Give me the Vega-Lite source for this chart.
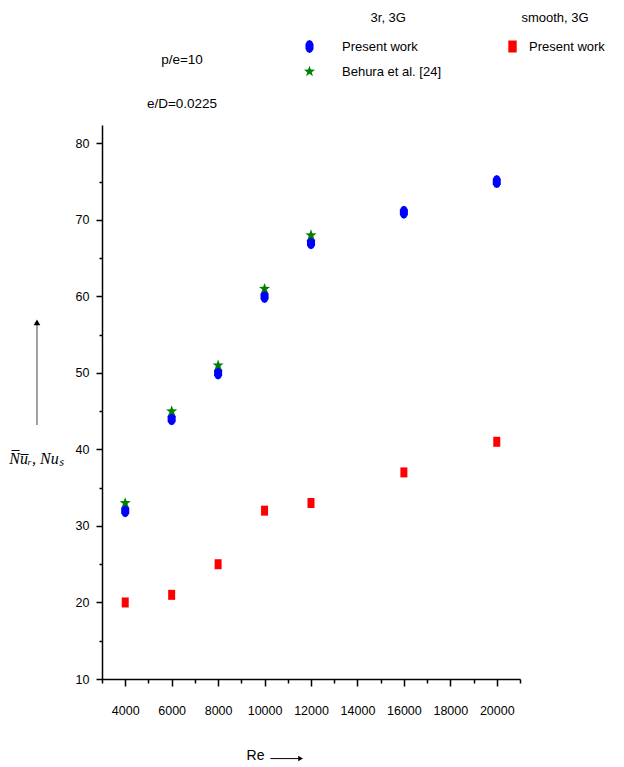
{
  "$schema": "https://vega.github.io/schema/vega-lite/v6.json",
  "width": 418,
  "height": 554,
  "autosize": {"type": "none"},
  "padding": {"left": 102, "top": 125, "right": 104, "bottom": 88},
  "background": "white",
  "title": {
    "text": "p/e=10",
    "subtitle": "e/D=0.0225",
    "anchor": "start",
    "frame": "group",
    "align": "center",
    "dx": 80,
    "offset": -98,
    "subtitlePadding": 30,
    "font": "Liberation Sans",
    "subtitleFont": "Liberation Sans",
    "fontSize": 13.5,
    "subtitleFontSize": 13.5,
    "fontWeight": "normal",
    "color": "black",
    "subtitleColor": "black"
  },
  "datasets": {
    "r3": [
      {"Re": 4000, "Nu": 32, "series": "Present work"},
      {"Re": 6000, "Nu": 44, "series": "Present work"},
      {"Re": 8000, "Nu": 50, "series": "Present work"},
      {"Re": 10000, "Nu": 60, "series": "Present work"},
      {"Re": 12000, "Nu": 67, "series": "Present work"},
      {"Re": 16000, "Nu": 71, "series": "Present work"},
      {"Re": 20000, "Nu": 75, "series": "Present work"},
      {"Re": 4000, "Nu": 33, "series": "Behura et al. [24]"},
      {"Re": 6000, "Nu": 45, "series": "Behura et al. [24]"},
      {"Re": 8000, "Nu": 51, "series": "Behura et al. [24]"},
      {"Re": 10000, "Nu": 61, "series": "Behura et al. [24]"},
      {"Re": 12000, "Nu": 68, "series": "Behura et al. [24]"}
    ],
    "smooth": [
      {"Re": 4000, "Nu": 20, "series": "Present work"},
      {"Re": 6000, "Nu": 21, "series": "Present work"},
      {"Re": 8000, "Nu": 25, "series": "Present work"},
      {"Re": 10000, "Nu": 32, "series": "Present work"},
      {"Re": 12000, "Nu": 33, "series": "Present work"},
      {"Re": 16000, "Nu": 37, "series": "Present work"},
      {"Re": 20000, "Nu": 41, "series": "Present work"}
    ],
    "one": [{"k": 1}]
  },
  "layer": [
    {
      "data": {"name": "r3"},
      "mark": {"type": "point", "filled": true, "opacity": 1, "size": 169, "strokeWidth": 0},
      "encoding": {
        "x": {
          "field": "Re", "type": "quantitative",
          "scale": {"domain": [3000, 21000], "nice": false, "zero": false},
          "axis": {
            "orient": "bottom",
            "values": [4000, 6000, 8000, 10000, 12000, 14000, 16000, 18000, 20000],
            "format": "d",
            "tickSize": 7,
            "labelPadding": 18,
            "labelDx": 5,
            "title": "Re",
            "titleX": 153,
            "titleY": 76,
            "titleAnchor": null,
            "titleAlign": "center",
            "titleBaseline": "middle",
            "titleFontWeight": "normal",
            "titleFontSize": 14
          }
        },
        "y": {
          "field": "Nu", "type": "quantitative",
          "scale": {"domain": [10, 82.4], "nice": false, "zero": false},
          "axis": {
            "orient": "left",
            "values": [10, 20, 30, 40, 50, 60, 70, 80],
            "tickSize": 6,
            "labelPadding": 7,
            "title": "N̅u̅ᵣ, Nuₛ",
            "titleAngle": 0,
            "titleX": -66,
            "titleY": 333,
            "titleAlign": "center",
            "titleBaseline": "middle",
            "titleFont": "Liberation Serif",
            "titleFontStyle": "italic",
            "titleFontWeight": "normal",
            "titleFontSize": 16
          }
        },
        "shape": {
          "field": "series", "type": "nominal",
          "scale": {
            "domain": ["Present work", "Behura et al. [24]"],
            "range": [
              "M0,-1 L0.35,-0.85 L0.62,-0.4 L0.62,0.4 L0.35,0.85 L0,1 L-0.35,0.85 L-0.62,0.4 L-0.62,-0.4 L-0.35,-0.85 Z",
              "M0,-0.9 L0.212,-0.291 L0.856,-0.278 L0.342,0.112 L0.529,0.728 L0,0.36 L-0.529,0.728 L-0.342,0.112 L-0.856,-0.278 L-0.212,-0.291 Z"
            ]
          },
          "legend": {
            "title": "\u200b\u00a0\u00a0\u00a0\u00a0\u00a0\u00a0\u00a0\u00a0\u00a03r, 3G",
            "orient": "none",
            "legendX": 201,
            "legendY": -113,
            "symbolSize": 169,
            "labelOffset": 26,
            "rowPadding": 11,
            "titleAnchor": "middle",
            "titlePadding": 15,
            "padding": 0
          }
        },
        "color": {
          "field": "series", "type": "nominal",
          "scale": {
            "domain": ["Present work", "Behura et al. [24]"],
            "range": ["#0000ff", "#008000"]
          },
          "legend": {
            "title": "\u200b\u00a0\u00a0\u00a0\u00a0\u00a0\u00a0\u00a0\u00a0\u00a03r, 3G",
            "orient": "none",
            "legendX": 201,
            "legendY": -113,
            "symbolSize": 169,
            "labelOffset": 26,
            "rowPadding": 11,
            "titleAnchor": "middle",
            "titlePadding": 15,
            "padding": 0
          }
        }
      }
    },
    {
      "data": {"name": "smooth"},
      "mark": {"type": "point", "filled": true, "opacity": 1, "size": 100, "strokeWidth": 0},
      "encoding": {
        "x": {
          "field": "Re", "type": "quantitative",
          "axis": {
            "orient": "bottom",
            "values": [3000, 5000, 7000, 9000, 11000, 13000, 15000, 17000, 19000, 21000],
            "tickSize": 4,
            "labels": false,
            "domain": false,
            "title": null
          }
        },
        "y": {
          "field": "Nu", "type": "quantitative",
          "axis": {
            "orient": "left",
            "values": [15, 25, 35, 45, 55, 65, 75],
            "tickSize": 3,
            "labels": false,
            "domain": false,
            "title": null
          }
        },
        "shape": {
          "field": "series", "type": "nominal",
          "scale": {"domain": ["Present work"], "range": ["M-0.7,-1 L0.7,-1 L0.7,1 L-0.7,1 Z"]},
          "legend": {
            "title": "smooth, 3G",
            "orient": "none",
            "legendX": 404,
            "legendY": -113,
            "symbolSize": 144,
            "labelOffset": 10,
            "rowPadding": 11,
            "titleAnchor": "middle",
            "titlePadding": 15,
            "padding": 0
          }
        },
        "color": {
          "field": "series", "type": "nominal",
          "scale": {"domain": ["Present work"], "range": ["#ff0000"]},
          "legend": {
            "title": "smooth, 3G",
            "orient": "none",
            "legendX": 404,
            "legendY": -113,
            "symbolSize": 144,
            "labelOffset": 10,
            "rowPadding": 11,
            "titleAnchor": "middle",
            "titlePadding": 15,
            "padding": 0
          }
        }
      }
    },
    {
      "data": {"name": "one"},
      "mark": {"type": "rule", "color": "#808080", "strokeWidth": 1.5},
      "encoding": {
        "x": {"datum": 200, "type": "quantitative", "axis": null},
        "y": {"datum": 43.2, "type": "quantitative", "axis": null},
        "y2": {"datum": 56.3}
      }
    },
    {
      "data": {"name": "one"},
      "mark": {"type": "point", "shape": "triangle-up", "filled": true, "color": "black", "opacity": 1, "size": 45},
      "encoding": {
        "x": {"datum": 200, "type": "quantitative", "axis": null},
        "y": {"datum": 56.6, "type": "quantitative", "axis": null}
      }
    },
    {
      "data": {"name": "one"},
      "mark": {"type": "rule", "color": "black", "strokeWidth": 1},
      "encoding": {
        "x": {"datum": 10250, "type": "quantitative", "axis": null},
        "x2": {"datum": 11450},
        "y": {"datum": -0.4, "type": "quantitative", "axis": null}
      }
    },
    {
      "data": {"name": "one"},
      "mark": {"type": "point", "shape": "triangle-right", "filled": true, "color": "black", "opacity": 1, "size": 30},
      "encoding": {
        "x": {"datum": 11550, "type": "quantitative", "axis": null},
        "y": {"datum": -0.4, "type": "quantitative", "axis": null}
      }
    }
  ],
  "resolve": {
    "axis": {"x": "independent", "y": "independent"},
    "scale": {"color": "independent", "shape": "independent"},
    "legend": {"color": "independent", "shape": "independent"}
  },
  "config": {
    "view": {"stroke": null},
    "font": "Liberation Sans",
    "axis": {
      "grid": false,
      "domainColor": "black",
      "domainWidth": 1.5,
      "tickColor": "black",
      "tickWidth": 1.5,
      "labelFont": "Liberation Sans",
      "labelFontSize": 12.5,
      "labelColor": "black",
      "titleFont": "Liberation Sans",
      "titleColor": "black"
    },
    "legend": {
      "labelFont": "Liberation Sans",
      "labelFontSize": 13,
      "labelColor": "black",
      "titleFont": "Liberation Sans",
      "titleFontSize": 13,
      "titleFontWeight": "normal",
      "titleColor": "black",
      "symbolStrokeWidth": 0,
      "labelLimit": 300
    }
  }
}
